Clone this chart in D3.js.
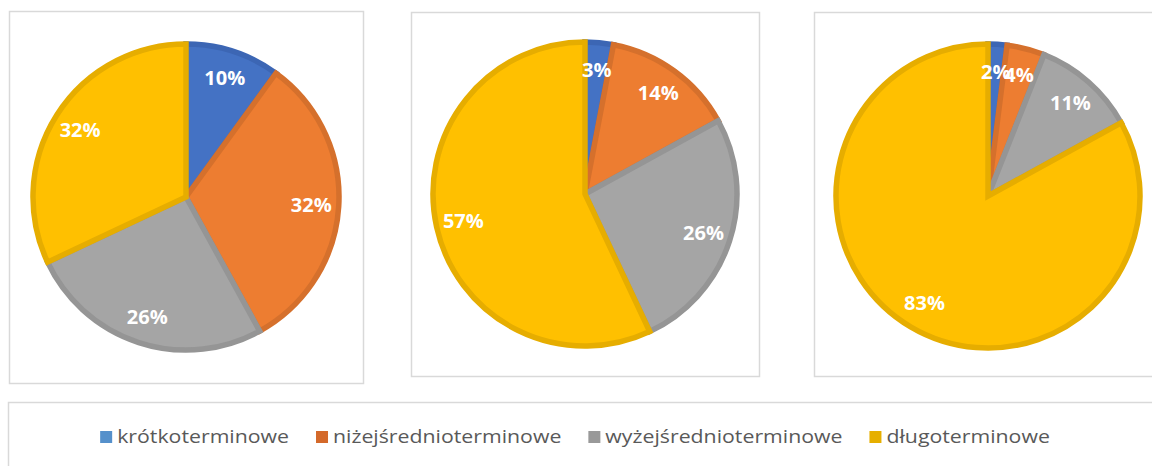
<!DOCTYPE html>
<html>
<head>
<meta charset="utf-8">
<script src="https://cdn.jsdelivr.net/npm/d3@7"></script>
<style>
  html, body { margin: 0; padding: 0; background: #ffffff; }
  svg { display: block; }
</style>
</head>
<body>
<svg id="chart" width="1152" height="466"></svg>
<script>
// Maturity structure categories and the share of each per panel (percent)
const categories = ["krótkoterminowe", "niżejśrednioterminowe", "wyżejśrednioterminowe", "długoterminowe"];
const panelA = [10, 32, 26, 32];
const panelB = [3, 14, 26, 57];
const panelC = [2, 4, 11, 83];

const fills   = ["#4472C4", "#ED7D31", "#A5A5A5", "#FFC000"];
const strokes = ["#3C66B4", "#D5702C", "#959595", "#E6AD00"];
const legendColors = ["#5590CB", "#D4692A", "#999999", "#E6AF00"];

const svg = d3.select("#chart");

// Panel frames and pie placement
const panels = [
  { values: panelA, box: [9, 11, 354, 372], cx: 186, cy: 197, r: 153 },
  { values: panelB, box: [411, 12, 348, 364], cx: 585, cy: 194, r: 152 },
  { values: panelC, box: [814, 12, 360, 364], cx: 988, cy: 196, r: 152 }
];

const pie = d3.pie().sort(null).value(d => d);
const color = d3.scaleOrdinal().domain(categories).range(fills);
const strokeColor = d3.scaleOrdinal().domain(categories).range(strokes);

panels.forEach(p => {
  svg.append("rect")
    .attr("x", p.box[0] + 0.5).attr("y", p.box[1] + 0.5)
    .attr("width", p.box[2]).attr("height", p.box[3])
    .attr("fill", "#ffffff")
    .attr("stroke", "#d9d9d9")
    .attr("stroke-width", 1.5);

  const g = svg.append("g").attr("transform", `translate(${p.cx},${p.cy})`);
  const arcs = pie(p.values);
  const arc = d3.arc().innerRadius(0).outerRadius(p.r);
  const labelArc = d3.arc().innerRadius(p.r * 0.82).outerRadius(p.r * 0.82);

  g.selectAll("path.slice")
    .data(arcs)
    .join("path")
    .attr("class", "slice")
    .attr("d", arc)
    .attr("fill", (d, i) => color(categories[i]))
    .attr("stroke", (d, i) => strokeColor(categories[i]))
    .attr("stroke-width", 5.5)
    .attr("stroke-linejoin", "miter");

  g.selectAll("text.value")
    .data(arcs)
    .join("text")
    .attr("class", "value")
    .attr("transform", d => `translate(${labelArc.centroid(d)})`)
    .attr("text-anchor", "middle")
    .attr("dy", "0.36em")
    .attr("fill", "#ffffff")
    .attr("font-family", "'Open Sans', 'Noto Sans', sans-serif")
    .attr("font-weight", "bold")
    .attr("font-size", 20)
    .text(d => d.data + "%");
});

// Legend frame
svg.append("rect")
  .attr("x", 8.5).attr("y", 402.5)
  .attr("width", 1160).attr("height", 80)
  .attr("fill", "#ffffff")
  .attr("stroke", "#d9d9d9")
  .attr("stroke-width", 1.5);

// Legend entries laid out left to right, centred in the frame
const legend = svg.append("g");
const items = legend.selectAll("g.item")
  .data(categories)
  .join("g")
  .attr("class", "item");

items.append("rect")
  .attr("width", 12).attr("height", 12)
  .attr("y", -12)
  .attr("fill", (d, i) => legendColors[i]);

const stretch = 1.12;
items.append("text")
  .attr("x", 17)
  .attr("y", 0)
  .attr("fill", "#595959")
  .attr("font-family", "'Open Sans', 'Noto Sans', sans-serif")
  .attr("font-size", 19)
  .text(d => d)
  .each(function () {
    const w = this.getComputedTextLength();
    d3.select(this)
      .attr("textLength", w * stretch)
      .attr("lengthAdjust", "spacingAndGlyphs");
  });

const gap = 27;
const widths = [];
items.each(function () {
  widths.push(17 + +this.querySelector("text").getAttribute("textLength"));
});
const total = d3.sum(widths) + gap * (widths.length - 1);
let x = 575 - total / 2;
items.each(function (d, i) {
  d3.select(this).attr("transform", `translate(${x},443)`);
  x += widths[i] + gap;
});
</script>
</body>
</html>
